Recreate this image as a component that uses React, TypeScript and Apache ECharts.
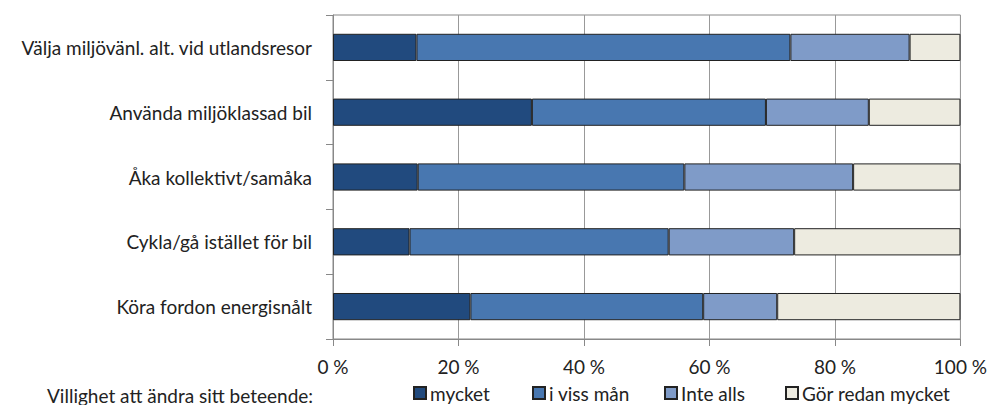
import React, { useEffect, useRef } from "react";
import * as echarts from "echarts";

const categories = [
  "Välja miljövänl. alt. vid utlandsresor",
  "Använda miljöklassad bil",
  "Åka kollektivt/samåka",
  "Cykla/gå istället för bil",
  "Köra fordon energisnålt",
];
const seriesNames = ["mycket", "i viss mån", "Inte alls", "Gör redan mycket"];
const mycket = [13.3, 31.7, 13.5, 12.2, 21.9];
const iVissMan = [59.6, 37.3, 42.5, 41.3, 37.1];
const inteAlls = [19.0, 16.4, 26.9, 20.0, 11.8];
const gorRedan = [8.1, 14.6, 17.1, 26.5, 29.2];
const xTicks = [0, 20, 40, 60, 80, 100];
const colors = ["#214A7E", "#4877B0", "#7F9BC8", "#EDEBE0"];
const legendTitle = "Villighet att ändra sitt beteende:";

const FONT = "Lato";
const FS = 19;

export default function App() {
  const ref = useRef<HTMLDivElement>(null);
  useEffect(() => {
    document.body.style.margin = "0";
    if (!ref.current) return;
    const chart = echarts.init(ref.current, null, { renderer: "svg" });
    const values = [mycket, iVissMan, inteAlls, gorRedan];
    const legendLefts = [413, 532, 664, 785];
    chart.setOption({
      animation: false,
      textStyle: { fontFamily: FONT },
      grid: {
        left: 333,
        right: 27,
        top: 15,
        bottom: 66,
        show: true,
        borderColor: "#888",
        borderWidth: 1,
      },
      legend: seriesNames.map((n, i) => ({
        data: [n],
        left: legendLefts[i],
        top: 383,
        itemWidth: 12,
        itemHeight: 12,
        itemGap: 4,
        padding: 0,
        textStyle: { fontFamily: FONT, fontSize: FS, color: "#222", lineHeight: 20, padding: [0, 0, 0, -1] },
        icon: "rect",
      })),
      xAxis: {
        type: "value",
        min: 0,
        max: 100,
        interval: 20,
        axisLine: { show: true, lineStyle: { color: "#888" } },
        axisTick: { show: true, length: 7, lineStyle: { color: "#888" } },
        splitLine: { show: true, lineStyle: { color: "#999", width: 1 } },
        axisLabel: {
          fontFamily: FONT,
          fontSize: FS,
          color: "#222",
          margin: 18,
          formatter: (v: number) => (xTicks.includes(v) ? `${v} %` : ""),
        },
      },
      yAxis: {
        type: "category",
        data: categories,
        inverse: true,
        axisLine: { show: true, lineStyle: { color: "#888" } },
        axisTick: { show: true, length: 7, lineStyle: { color: "#888" } },
        axisLabel: { fontFamily: FONT, fontSize: FS, color: "#222", margin: 21 },
      },
      series: seriesNames.map((n, i) => ({
        name: n,
        type: "bar",
        stack: "total",
        barWidth: "42%",
        data: values[i],
        itemStyle: { color: colors[i], borderColor: "#222", borderWidth: 1 },
      })),
      graphic: [
        {
          type: "text",
          x: 47,
          y: 395,
          style: {
            text: legendTitle,
            font: `${FS}px ${FONT}`,
            fill: "#222",
            verticalAlign: "middle",
          },
        },
      ],
    });
    return () => chart.dispose();
  }, []);
  return <div ref={ref} style={{ width: 990, height: 405 }} />;
}
